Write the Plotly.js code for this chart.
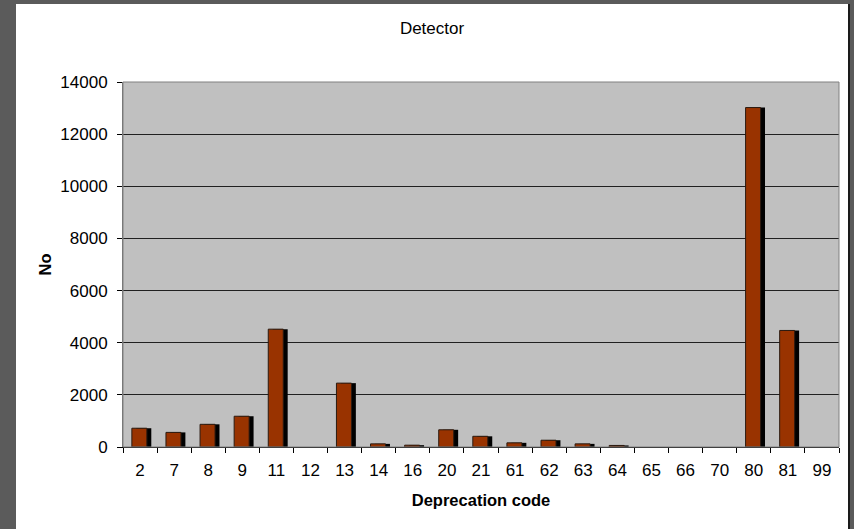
<!DOCTYPE html>
<html>
<head>
<meta charset="utf-8">
<script src="https://cdn.plot.ly/plotly-3.0.1.min.js"></script>
<style>
  html, body { margin: 0; padding: 0; background: #5b5b5b; width: 854px; height: 529px; overflow: hidden; }
  #frame { position: absolute; left: 16px; top: 4px; width: 832px; height: 525px; background: #fff; border-right: 2px solid #1a1a1a; }
  #chart { position: absolute; left: 0; top: 0; width: 832px; height: 525px; }
</style>
</head>
<body>
<div id="frame"><div id="chart"></div></div>
<script>
const codes = ["2","7","8","9","11","12","13","14","16","20","21","61","62","63","64","65","66","70","80","81","99"];
const counts = [720, 560, 870, 1180, 4520, 0, 2450, 120, 70, 660, 410, 160, 260, 120, 60, 0, 0, 0, 13020, 4470, 0];
const yTicks = [0, 2000, 4000, 6000, 8000, 10000, 12000, 14000];

// zero counts draw no bar at all (avoid outline slivers)
const drawn = counts.map(v => (v === 0 ? null : v));

const shadow = {
  type: 'bar', x: codes, y: drawn,
  width: 0.44, offset: -0.11,
  marker: { color: '#000000', line: { width: 0 } },
  hoverinfo: 'skip', showlegend: false
};
const bars = {
  type: 'bar', x: codes, y: drawn,
  width: 0.44, offset: -0.24,
  marker: { color: '#993300', line: { color: '#2a1a10', width: 1 } },
  showlegend: false
};

const layout = {
  width: 832, height: 525,
  margin: { l: 107, r: 9, t: 78, b: 82 },
  paper_bgcolor: '#ffffff',
  plot_bgcolor: '#c0c0c0',
  barmode: 'overlay',
  font: { family: 'Liberation Sans, Arial, sans-serif', size: 17, color: '#000' },
  title: { text: 'Detector', x: 0.5, xanchor: 'center', y: 1, yanchor: 'top', pad: { t: 18 }, font: { size: 17, color: '#000' } },
  xaxis: {
    type: 'category',
    tickson: 'boundaries',
    ticks: 'outside', ticklen: 5, tickcolor: '#000', tickwidth: 1,
    showline: true, linecolor: '#000', linewidth: 1,
    showgrid: false,
    ticklabelstandoff: 8,
    automargin: true,
    title: { text: 'Deprecation code', font: { size: 16.5, weight: 'bold' }, standoff: 15 }
  },
  yaxis: {
    range: [0, 14000],
    tickvals: yTicks,
    tickformat: 'd',
    ticks: 'outside', ticklen: 5, tickcolor: '#000', tickwidth: 1,
    showline: true, linecolor: '#707070', linewidth: 1,
    showgrid: true, gridcolor: '#202020', gridwidth: 1,
    zeroline: false,
    ticklabelstandoff: 6,
    automargin: true,
    title: { text: 'No', font: { size: 16.5, weight: 'bold' }, standoff: 4 }
  },
  shapes: [
    { type: 'rect', xref: 'paper', yref: 'paper', x0: 0, x1: 1, y0: 0, y1: 1, line: { color: '#808080', width: 1 }, fillcolor: 'rgba(0,0,0,0)', layer: 'above' }
  ]
};

Plotly.newPlot('chart', [shadow, bars], layout, { displayModeBar: false, staticPlot: true });
</script>
</body>
</html>
